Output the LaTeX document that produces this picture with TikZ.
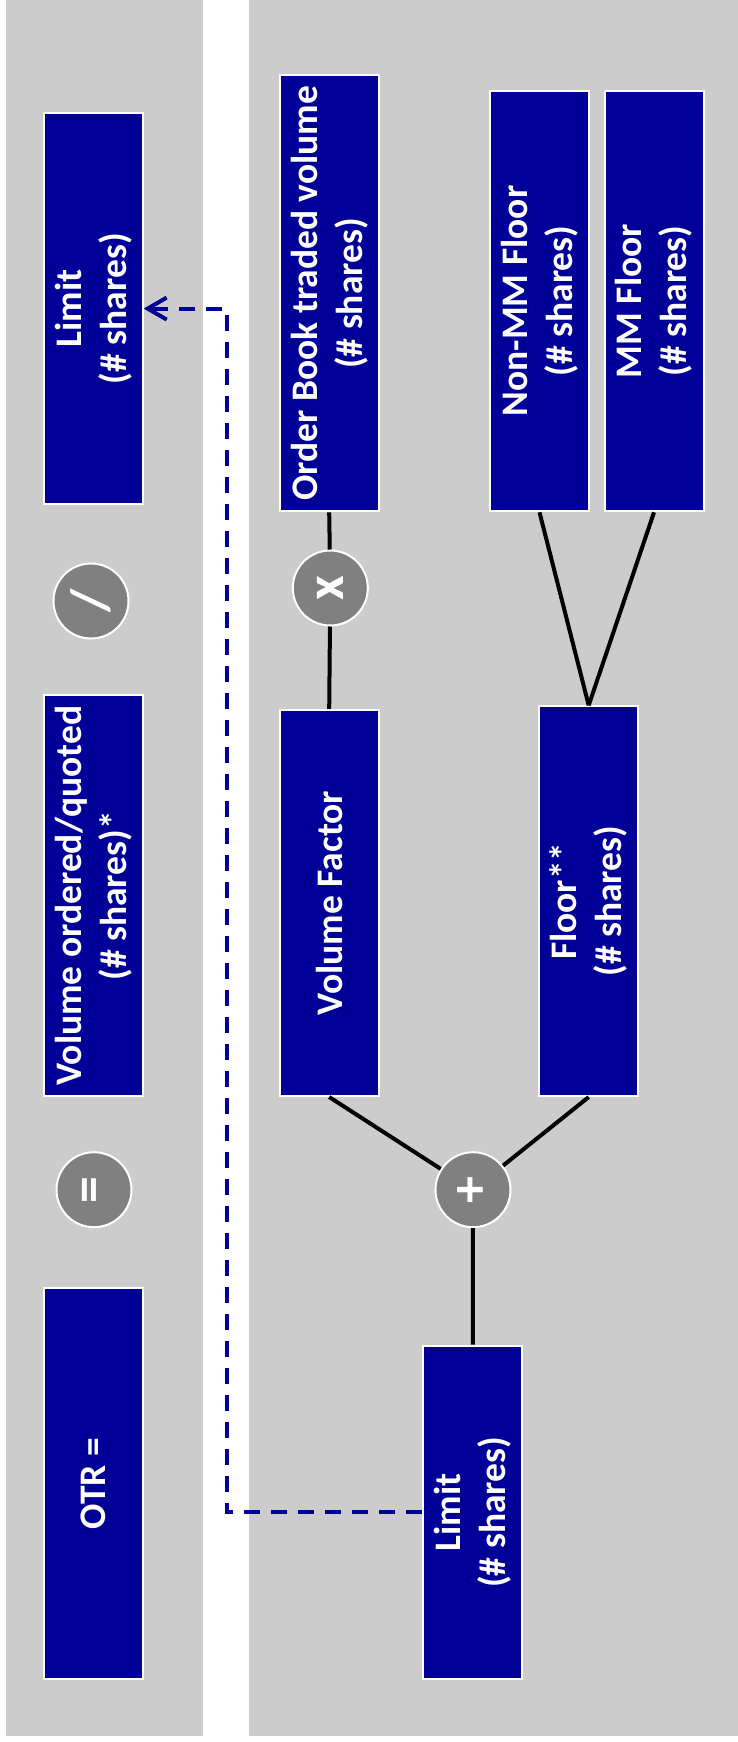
\documentclass[tikz,border=0pt]{standalone}
\usepackage{fontspec}
\setmainfont{Carlito}
\usetikzlibrary{arrows.meta}
\definecolor{panel}{HTML}{CCCCCC}
\definecolor{navy}{HTML}{000099}
\definecolor{opgray}{HTML}{808080}
\tikzset{
  box/.style={rotate=90, draw=white, line width=2pt, fill=navy, text=white,
    font=\bfseries\fontsize{37.5}{45}\selectfont, align=center, inner sep=0pt,
    minimum height=99pt},
  op/.style={circle, draw=white, line width=2pt, fill=opgray, text=white,
    font=\bfseries\fontsize{54}{54}\selectfont, minimum size=75pt, inner sep=0pt,
    rotate=90},
  link/.style={line width=4pt, black},
  feedback/.style={draw=navy, line width=4pt, dash pattern=on 16pt off 11pt,
    -{Straight Barb[length=19pt,width=22pt,line width=4pt]}}
}
\begin{document}
\begin{tikzpicture}[x=1pt,y=1pt]
\useasboundingbox (0,0) rectangle (738,-1742);
\fill[white] (0,0) rectangle (738,-1742);
\fill[panel] (5.6,0) rectangle (203,-1736);
\fill[panel] (248.5,0) rectangle (738,-1736);

% connectors (drawn first, behind the shapes)
\coordinate (lane) at (226.8,-900);

% left column: OTR formula
\node[box, minimum width=391.5pt] (lim1) at (93.2,-308.6) {Limit\\(\# shares)};
\node[op] (div) at (91,-601) {/};
\node[box, minimum width=400.6pt] (vol) at (93.5,-895.7) {Volume ordered/quoted\\(\# shares)*};
\node[op] (eq) at (94,-1189.7) {=};
\node[box, minimum width=391pt] (otr) at (93.6,-1483.5) {OTR =};

% right column: limit computation
\node[box, minimum width=436pt] (ob) at (329.2,-293.4) {Order Book traded volume\\(\# shares)};
\node[op] (times) at (330.3,-588) {x};
\node[box, minimum width=386pt] (vf) at (329.2,-903) {Volume Factor};
\node[box, minimum width=420.6pt] (nonmm) at (539.5,-301) {Non-MM Floor\\(\# shares)};
\node[box, minimum width=420.6pt] (mm) at (654,-301) {MM Floor\\(\# shares)};
\node[box, minimum width=389.7pt] (floor) at (588.7,-901.2) {Floor**\\(\# shares)};
\node[op] (plus) at (473,-1189.7) {+};
\node[box, minimum width=333.4pt] (lim2) at (472.8,-1512.3) {Limit\\(\# shares)};

\draw[link] (ob.west) -- (times) -- (vf.east);
\draw[link] (nonmm.west) -- (floor.east);
\draw[link] (mm.west) -- (floor.east);
\draw[link] (vf.west) -- (plus);
\draw[link] (floor.west) -- (plus);
\draw[link] (plus) -- (lim2.east);

\draw[feedback] (lim2.north) -- (lim2.north -| lane) -- (lane |- lim1.south) -- (lim1.south);
\end{tikzpicture}
\end{document}
